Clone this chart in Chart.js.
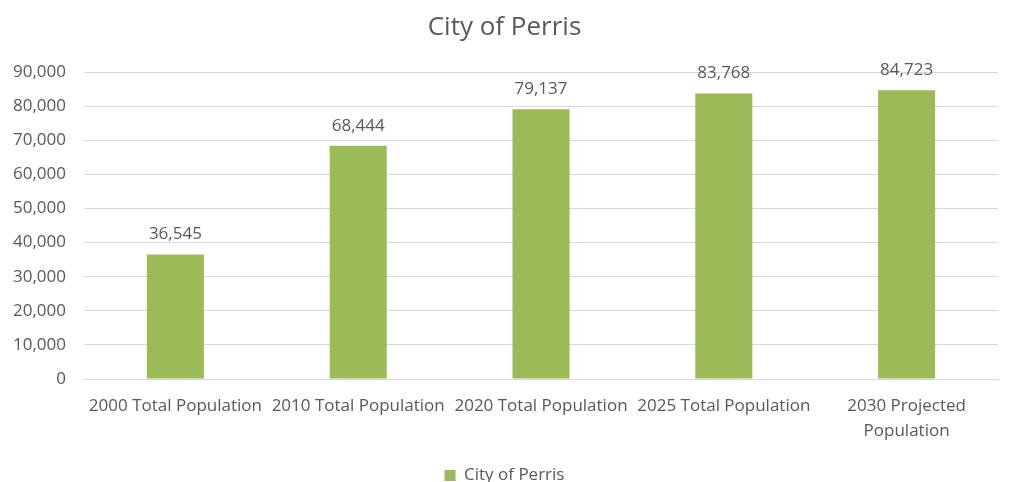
<!DOCTYPE html>
<html>
<head>
<meta charset="utf-8">
<script src="https://cdn.jsdelivr.net/npm/chart.js@4.4.1/dist/chart.umd.min.js"></script>
<style>
  html, body { margin: 0; padding: 0; background: #fff; }
  #wrap { width: 1010px; height: 482px; position: relative; }
</style>
</head>
<body>
<div id="wrap"><canvas id="chart"></canvas></div>
<script>
const categories = [
  "2000 Total Population",
  "2010 Total Population",
  "2020 Total Population",
  "2025 Total Population",
  ["2030 Projected", "Population"]
];
const population = [36545, 68444, 79137, 83768, 84723];
const seriesName = "City of Perris";

const textColor = "#595959";
const fontFamily = "'Open Sans', 'Noto Sans', sans-serif";

// draws the value above each bar
const barValueLabels = {
  id: "barValueLabels",
  afterDatasetsDraw(chart) {
    const ctx = chart.ctx;
    const meta = chart.getDatasetMeta(0);
    ctx.save();
    ctx.fillStyle = textColor;
    ctx.font = "17px " + fontFamily;
    ctx.textAlign = "center";
    ctx.textBaseline = "middle";
    meta.data.forEach((bar, i) => {
      ctx.fillText(population[i].toLocaleString("en-US"), bar.x, bar.y - 20);
    });
    ctx.restore();
  }
};

new Chart(document.getElementById("chart"), {
  type: "bar",
  data: {
    labels: categories,
    datasets: [{
      label: seriesName,
      data: population,
      backgroundColor: "#9BBB59",
      borderWidth: 0,
      barPercentage: 0.312,
      categoryPercentage: 1
    }]
  },
  options: {
    responsive: true,
    maintainAspectRatio: false,
    animation: false,
    layout: { autoPadding: false, padding: { left: 11, right: 12, top: 8, bottom: -12 } },
    plugins: {
      title: {
        display: true,
        text: seriesName,
        color: textColor,
        font: { family: fontFamily, size: 26, weight: "normal" },
        padding: { top: 4, bottom: 29 }
      },
      legend: {
        position: "bottom",
        labels: {
          color: textColor,
          font: { family: fontFamily, size: 17 },
          boxWidth: 11,
          boxHeight: 11,
          padding: 4
        }
      },
      tooltip: { enabled: false }
    },
    scales: {
      x: {
        grid: { display: false },
        border: { color: "#d9d9d9" },
        afterFit: (scale) => { scale.height = 84; },
        ticks: {
          color: textColor,
          font: { family: fontFamily, size: 17, lineHeight: 1.45 },
          maxRotation: 0,
          autoSkip: false,
          padding: 7
        }
      },
      y: {
        min: 0,
        max: 90000,
        afterFit: (scale) => { scale.width = 73; },
        ticks: {
          stepSize: 10000,
          color: textColor,
          font: { family: fontFamily, size: 17 },
          padding: 18,
          callback: (v) => v.toLocaleString("en-US")
        },
        grid: { color: "#d9d9d9", drawTicks: false },
        border: { display: false }
      }
    }
  },
  plugins: [barValueLabels]
});
</script>
</body>
</html>
